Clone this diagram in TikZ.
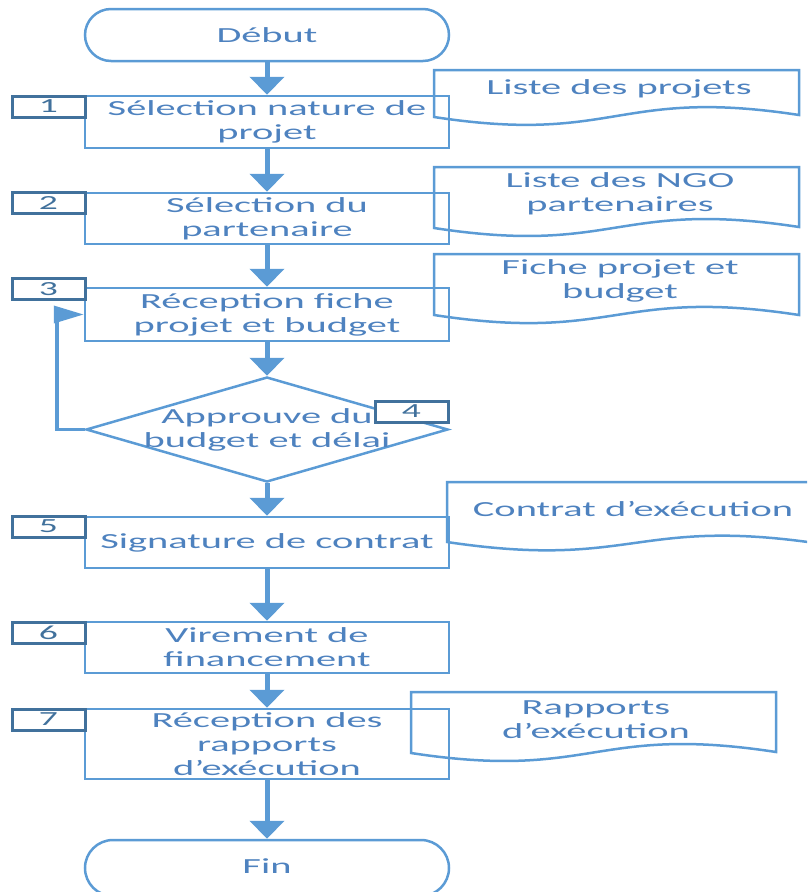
\documentclass[tikz,border=0pt]{standalone}
\usepackage{fontspec}
\newfontfamily\diafont[FakeStretch=1.88]{Carlito}
\usetikzlibrary{arrows.meta,shapes.geometric}

\definecolor{lineblue}{RGB}{91,155,213}
\definecolor{tagblue}{RGB}{65,113,156}
\definecolor{textblue}{RGB}{78,130,191}
\definecolor{finband}{RGB}{214,222,238}

\tikzset{
  txt/.style={font=\diafont\fontsize{21.5}{24}\selectfont, text=textblue, align=center, inner sep=0pt},
  terminal/.style={txt, draw=lineblue, line width=2.5pt, rounded corners=26pt,
    minimum width=364pt, minimum height=52pt},
  procbox/.style={txt, draw=lineblue, line width=2.5pt, minimum width=364pt},
  numtag/.style={font=\diafont\fontsize{20}{20}\selectfont, text=tagblue, draw=tagblue,
    line width=3pt, fill=white, minimum width=73pt, minimum height=21pt, inner sep=0pt},
  decision/.style={diamond, draw=lineblue, line width=2.5pt, minimum width=362pt,
    minimum height=105pt, inner sep=0pt},
  flow/.style={draw=lineblue, line width=5pt, -{Triangle[length=18pt,width=34pt]}},
  backflow/.style={draw=lineblue, line width=3.5pt, -{Triangle[length=30pt,width=17pt]}},
  docshape/.style={draw=lineblue, line width=2.5pt},
}

% document symbol: left x, top y, right x, bottom y at left, bottom y at right
\newcommand{\docsymbol}[5]{%
  \draw[docshape] (#1,#2) -- (#3,#2) -- (#3,#5)
    .. controls ({(#1+#3)/2},{#5-28}) and ({(#1+#3)/2},{#4+28}) .. (#1,#4) -- cycle;}

\begin{document}
\begin{tikzpicture}[x=1pt,y=-1pt]
\useasboundingbox (0,0) rectangle (807,892);
\clip (0,0) rectangle (807,892);

% main column
\node[terminal] (deb) at (267,35) {Début};
\node[procbox, minimum height=52pt] (b1) at (267,122) {Sélection nature de\\projet};
\node[procbox, minimum height=51pt] (b2) at (267,218.5) {Sélection du\\partenaire};
\node[procbox, minimum height=53pt] (b3) at (267,314.5) {Réception fiche\\projet et budget};
\node[decision] (d) at (267,429.5) {};
\node[txt] (dtext) at (d.center) {Approuve du\\budget et délai};
\node[procbox, minimum height=51pt] (b5) at (267,542.5) {Signature de contrat};
\node[procbox, minimum height=51pt] (b6) at (267,647.5) {Virement de\\financement};
\node[procbox, minimum height=70pt] (b7) at (267,744) {Réception des\\rapports\\d’exécution};
\node[terminal, minimum height=56pt, rounded corners=28pt,
      top color=white, middle color=finband, bottom color=white, shading angle=12]
      (fin) at (267,868) {};
\node[txt] (fintext) at (267,866) {Fin};

% documents produced along the way
\docsymbol{434}{70}{799}{117}{115}
\node[txt] (doc1) at (619,89) {Liste des projets};
\docsymbol{434}{167}{799}{228}{227}
\node[txt] (doc2) at (620,194) {Liste des NGO\\partenaires};
\docsymbol{434}{254}{799}{315}{315}
\node[txt] (doc3) at (620,281) {Fiche projet et\\budget};
\docsymbol{447}{482}{822}{542}{544}
\node[txt] (doc5) at (633,509) {Contrat d’exécution};
\docsymbol{411}{692}{776}{753}{752}
\node[txt] (doc7) at (596,720) {Rapports\\d’exécution};

% flow
\draw[flow] (deb.south) -- (b1.north);
\draw[flow] (b1.south) -- (b2.north);
\draw[flow] (b2.south) -- (b3.north);
\draw[flow] (b3.south) -- (d.north);
\draw[flow] (d.south) -- (b5.north);
\draw[flow] (b5.south) -- (b6.north);
\draw[flow] (b6.south) -- (b7.north);
\draw[flow] (b7.south) -- (fin.north);
\draw[backflow] (d.west) -| ([xshift=-27pt]b3.west) -- (b3.west);

% step numbers
\node[numtag] (t1) at (48.5,106.5) {1};
\node[numtag] (t2) at (48.5,203) {2};
\node[numtag] (t3) at (48.5,289) {3};
\node[numtag] (t4) at (411.5,411.5) {4};
\node[numtag] (t5) at (48.5,526.5) {5};
\node[numtag] (t6) at (48.5,632.5) {6};
\node[numtag] (t7) at (48.5,719.5) {7};
\end{tikzpicture}
\end{document}
